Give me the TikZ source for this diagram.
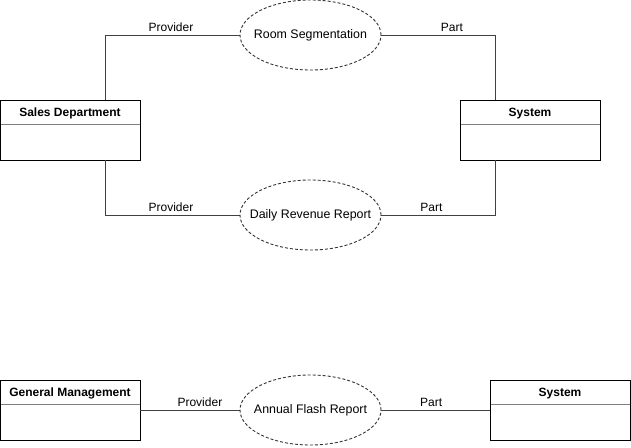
\documentclass[tikz,border=0pt]{standalone}
\usepackage{fontspec}
\setmainfont{Liberation Sans}
\usetikzlibrary{shapes.geometric}

\tikzset{
  classbox/.style={draw, line width=0.9pt, minimum width=140pt, inner xsep=0pt, inner ysep=0pt,
    text height=16.5pt, text depth=43.5pt, font=\fontsize{12}{14}\selectfont\bfseries,
    path picture={\draw[gray, line width=0.9pt] ([yshift=-24pt]path picture bounding box.north west) -- ([yshift=-24pt]path picture bounding box.north east);}},
  usecase/.style={ellipse, draw=black!80, line width=0.9pt, dash pattern=on 3pt off 2pt,
    minimum width=141pt, minimum height=70pt, inner sep=0pt, font=\fontsize{12.4}{14}\selectfont},
  link/.style={draw=black!75, line width=0.9pt},
  role/.style={above, inner sep=2.5pt}
}

\begin{document}
\begin{tikzpicture}[x=1pt, y=-1pt, font=\fontsize{12}{14}\selectfont]
  \useasboundingbox (0,0) rectangle (631,447);

  % Actors
  \node[classbox] (sales) at (70,130) {Sales Department};
  \node[classbox] (system) at (530,130) {System};
  \node[classbox] (mgmt) at (70,410) {General Management};
  \node[classbox] (system2) at (560,410) {System};

  % Use cases
  \node[usecase] (rooms) at (310.5,35) {\makebox[0pt]{Room Segmentation}};
  \node[usecase] (daily) at (310.5,215) {\makebox[0pt]{Daily Revenue Report}};
  \node[usecase] (annual) at (310.5,410) {\makebox[0pt]{Annual Flash Report}};

  % Associations
  \draw[link] ([xshift=35pt]sales.north) |- (rooms) node[role, pos=0.745] {Provider};
  \draw[link] (rooms) -| ([xshift=-35pt]system.north) node[role, pos=0.31] {Part};
  \draw[link] ([xshift=35pt]sales.south) |- (daily) node[role, pos=0.745] {Provider};
  \draw[link] (daily) -| ([xshift=-35pt]system.south) node[role, pos=0.22] {Part};
  \draw[link] (mgmt) -- (annual) node[role, pos=0.6] {Provider};
  \draw[link] (annual) -- (system2) node[role, pos=0.46] {Part};
\end{tikzpicture}
\end{document}
